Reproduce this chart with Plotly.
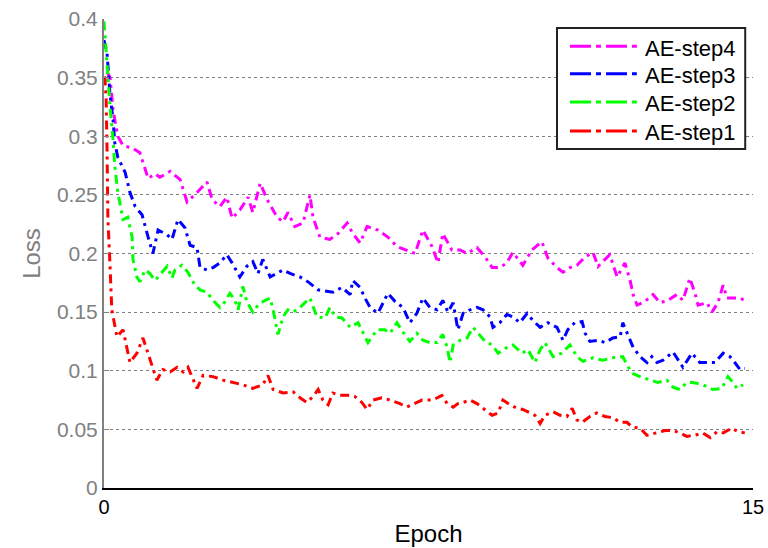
import plotly.graph_objects as go

# ---- data (epoch, loss) ----
step4_x = [0.07,0.14,0.21,0.32,0.44,0.65,0.83,1.02,1.18,1.29,
           1.53,1.76,1.92,2.15,2.38,2.50,2.68,2.84,2.96,3.14,
           3.33,3.44,3.61,3.77,4.00,4.14,4.25,4.41,4.60,4.76,
           4.83,4.99,5.22,5.41,5.62,5.75,5.92,6.08,6.33,6.56,
           6.77,7.00,7.19,7.37,7.58,7.72,7.83,8.04,8.23,8.39,
           8.62,8.81,8.97,9.15,9.31,9.45,9.54,9.68,9.89,10.12,
           10.26,10.47,10.61,10.77,10.93,11.12,11.30,11.42,11.58,11.69,
           11.86,12.04,12.16,12.23,12.32,12.50,12.69,12.85,13.03,13.24,
           13.38,13.54,13.66,13.73,13.94,14.05,14.19,14.31,14.40,14.54,
           14.70,14.86]
step4_y = [0.355,0.35,0.322,0.30,0.292,0.29,0.286,0.264,0.268,0.265,
           0.27,0.263,0.244,0.252,0.261,0.246,0.24,0.248,0.23,0.237,
           0.248,0.235,0.26,0.246,0.231,0.227,0.235,0.223,0.226,0.25,
           0.231,0.214,0.212,0.217,0.226,0.217,0.209,0.223,0.22,0.214,
           0.206,0.203,0.20,0.22,0.206,0.192,0.217,0.203,0.203,0.20,
           0.205,0.197,0.188,0.188,0.192,0.201,0.197,0.19,0.203,0.21,
           0.196,0.188,0.184,0.188,0.19,0.197,0.201,0.189,0.195,0.199,
           0.18,0.192,0.177,0.165,0.156,0.159,0.165,0.158,0.16,0.165,
           0.16,0.179,0.166,0.156,0.158,0.15,0.158,0.173,0.162,0.162,
           0.162,0.159]

step3_x = [0,0.07,0.14,0.21,0.25,0.32,0.49,0.60,0.72,0.88,
           1.02,1.13,1.25,1.46,1.57,1.71,1.87,1.99,2.15,2.22,
           2.38,2.52,2.68,2.84,2.96,3.14,3.30,3.44,3.56,3.67,
           3.84,4.14,4.30,4.53,4.71,4.95,5.11,5.29,5.50,5.69,
           5.75,5.92,6.03,6.15,6.33,6.45,6.56,6.73,6.91,7.07,
           7.23,7.37,7.53,7.70,7.83,7.95,8.07,8.18,8.30,8.46,
           8.62,8.76,8.92,8.99,9.15,9.31,9.45,9.61,9.78,9.91,
           10.08,10.26,10.47,10.61,10.72,10.88,11.05,11.12,11.23,11.42,
           11.58,11.76,11.93,11.99,12.09,12.23,12.39,12.55,12.66,12.78,
           12.92,13.15,13.31,13.38,13.59,13.77,13.94,14.12,14.31,14.47,
           14.58,14.70,14.81]
step3_y = [0.382,0.371,0.335,0.314,0.294,0.282,0.269,0.252,0.24,0.233,
           0.214,0.20,0.22,0.216,0.212,0.229,0.222,0.207,0.205,0.188,
           0.186,0.188,0.192,0.199,0.192,0.18,0.189,0.193,0.183,0.195,
           0.18,0.186,0.183,0.18,0.176,0.169,0.168,0.167,0.171,0.165,
           0.177,0.171,0.162,0.154,0.149,0.158,0.166,0.159,0.154,0.141,
           0.149,0.162,0.154,0.152,0.16,0.15,0.158,0.135,0.149,0.152,
           0.154,0.152,0.146,0.137,0.141,0.148,0.146,0.141,0.149,0.143,
           0.137,0.141,0.137,0.126,0.135,0.141,0.142,0.132,0.125,0.126,
           0.124,0.128,0.129,0.141,0.132,0.12,0.112,0.107,0.112,0.107,
           0.109,0.116,0.107,0.103,0.115,0.107,0.107,0.107,0.115,0.112,
           0.107,0.101,0.102]

step2_x = [0,0.07,0.14,0.21,0.25,0.32,0.44,0.55,0.65,0.67,
           0.76,0.83,0.95,1.06,1.18,1.34,1.46,1.57,1.64,1.80,
           1.94,2.10,2.22,2.38,2.52,2.68,2.80,2.91,3.03,3.10,
           3.21,3.30,3.44,3.56,3.72,3.84,3.91,4.02,4.14,4.25,
           4.37,4.53,4.69,4.76,4.92,5.11,5.22,5.34,5.50,5.69,
           5.87,5.99,6.10,6.31,6.49,6.61,6.77,6.91,7.07,7.23,
           7.37,7.53,7.70,7.83,7.93,8.00,8.07,8.23,8.39,8.53,
           8.64,8.81,8.97,9.11,9.27,9.45,9.66,9.80,9.96,10.08,
           10.19,10.38,10.58,10.77,10.93,11.07,11.30,11.53,11.76,11.99,
           12.09,12.20,12.39,12.62,12.80,13.01,13.15,13.31,13.47,13.61,
           13.84,14.07,14.28,14.42,14.54,14.63,14.77]
step2_y = [0.398,0.36,0.325,0.297,0.274,0.252,0.229,0.231,0.214,0.195,
           0.18,0.176,0.186,0.183,0.177,0.184,0.189,0.179,0.186,0.19,
           0.184,0.173,0.169,0.167,0.16,0.154,0.159,0.166,0.16,0.152,
           0.172,0.159,0.15,0.156,0.16,0.162,0.152,0.131,0.146,0.152,
           0.15,0.154,0.16,0.162,0.146,0.145,0.154,0.146,0.145,0.137,
           0.141,0.132,0.124,0.135,0.135,0.132,0.141,0.133,0.125,0.132,
           0.126,0.124,0.124,0.131,0.12,0.107,0.122,0.126,0.128,0.137,
           0.132,0.125,0.122,0.115,0.119,0.122,0.115,0.118,0.107,0.118,
           0.124,0.112,0.115,0.122,0.112,0.108,0.111,0.109,0.111,0.112,
           0.105,0.098,0.095,0.092,0.09,0.092,0.086,0.084,0.09,0.09,
           0.088,0.084,0.085,0.095,0.09,0.085,0.088]

step1_x = [0.02,0.05,0.07,0.09,0.14,0.18,0.30,0.44,0.60,0.76,
           0.90,1.06,1.22,1.36,1.53,1.69,1.83,1.94,2.06,2.15,
           2.29,2.52,2.75,2.98,3.21,3.44,3.67,3.79,3.91,4.14,
           4.37,4.53,4.69,4.83,4.95,5.06,5.18,5.29,5.45,5.64,
           5.80,5.96,6.08,6.22,6.42,6.61,6.84,7.00,7.19,7.35,
           7.60,7.81,7.93,8.07,8.18,8.30,8.46,8.62,8.76,8.97,
           9.11,9.22,9.34,9.54,9.68,9.85,9.96,10.08,10.19,10.38,
           10.54,10.70,10.82,10.93,11.05,11.23,11.39,11.58,11.76,11.93,
           12.09,12.20,12.39,12.55,12.78,12.97,13.15,13.31,13.47,13.66,
           13.84,14.01,14.17,14.31,14.51,14.65,14.81]
step1_y = [0.351,0.331,0.29,0.23,0.189,0.152,0.129,0.135,0.107,0.115,
           0.128,0.109,0.092,0.101,0.099,0.103,0.099,0.103,0.092,0.085,
           0.096,0.095,0.092,0.09,0.088,0.085,0.088,0.096,0.084,0.081,
           0.082,0.077,0.073,0.078,0.084,0.075,0.071,0.081,0.079,0.079,
           0.078,0.073,0.067,0.075,0.077,0.075,0.072,0.069,0.072,0.075,
           0.075,0.079,0.072,0.069,0.072,0.073,0.075,0.072,0.068,0.062,
           0.064,0.075,0.072,0.068,0.067,0.064,0.062,0.055,0.062,0.065,
           0.062,0.061,0.068,0.058,0.056,0.061,0.064,0.061,0.06,0.056,
           0.056,0.052,0.051,0.045,0.047,0.049,0.049,0.047,0.044,0.045,
           0.047,0.043,0.048,0.047,0.051,0.048,0.047]

series_names = ["AE-step4", "AE-step3", "AE-step2", "AE-step1"]
series_colors = ["#FF00FF", "#0000FF", "#00FF00", "#FF0000"]

y_tickvals = [0, 0.05, 0.1, 0.15, 0.2, 0.25, 0.3, 0.35, 0.4]
y_ticktext = ["0", "0.05", "0.1", "0.15", "0.2", "0.25", "0.3", "0.35", "0.4"]
x_tickvals = [0, 15]
x_ticktext = ["0", "15"]

xs = [step4_x, step3_x, step2_x, step1_x]
ys = [step4_y, step3_y, step2_y, step1_y]

FONT = "Liberation Sans, Arial, sans-serif"

fig = go.Figure()
for name, color, x, y in zip(series_names, series_colors, xs, ys):
    fig.add_trace(go.Scatter(
        x=x, y=y, mode="lines", name=name, showlegend=False,
        line=dict(color=color, width=3, dash="9px,5px,3px,5px"),
    ))

# ---- boxed legend (paper coordinates) ----
LEG_X0, LEG_X1, LEG_Y0, LEG_Y1 = 0.698, 0.988, 0.723, 0.981
SAMPLE_X0, SAMPLE_X1, TEXT_X = 0.718, 0.821, 0.8305
ROW_Y = [0.942, 0.883, 0.823, 0.761]

shapes = [dict(type="rect", xref="paper", yref="paper",
               x0=LEG_X0, x1=LEG_X1, y0=LEG_Y0, y1=LEG_Y1,
               fillcolor="white", line=dict(color="#222222", width=2), layer="above")]
annotations = []
for name, color, ry in zip(series_names, series_colors, ROW_Y):
    shapes.append(dict(type="line", xref="paper", yref="paper",
                       x0=SAMPLE_X0, x1=SAMPLE_X1, y0=ry, y1=ry,
                       line=dict(color=color, width=3, dash="21px,5px,5px,5px"), layer="above"))
    annotations.append(dict(xref="paper", yref="paper", x=TEXT_X, y=ry - 0.004,
                            xanchor="left", yanchor="middle", showarrow=False,
                            text=name, font=dict(family=FONT, size=22, color="black")))

fig.update_layout(
    width=768, height=548,
    margin=dict(l=104, r=15, t=19, b=60),
    paper_bgcolor="white", plot_bgcolor="white",
    font=dict(family=FONT, size=21, color="black"),
    showlegend=False,
    shapes=shapes,
    annotations=annotations,
    xaxis=dict(
        range=[0, 15], tickvals=x_tickvals, ticktext=x_ticktext,
        showgrid=False, zeroline=False, automargin=False,
        showline=True, linecolor="black", linewidth=2,
        ticks="inside", ticklen=6, tickcolor="black",
        tickfont=dict(family=FONT, size=20, color="black"),
        title=dict(text="Epoch", font=dict(family=FONT, size=24, color="black"), standoff=8),
    ),
    yaxis=dict(
        range=[0, 0.4], tickvals=y_tickvals, ticktext=y_ticktext,
        showgrid=True, gridcolor="#808080", griddash="dot", gridwidth=1,
        zeroline=False, automargin=False,
        showline=True, linecolor="#808080", linewidth=2,
        ticks="inside", ticklen=5, tickcolor="#808080",
        tickfont=dict(family=FONT, size=21, color="#808080"),
        title=dict(text="Loss", font=dict(family=FONT, size=24, color="#808080"), standoff=10),
    ),
)

fig.write_html("out.html")
